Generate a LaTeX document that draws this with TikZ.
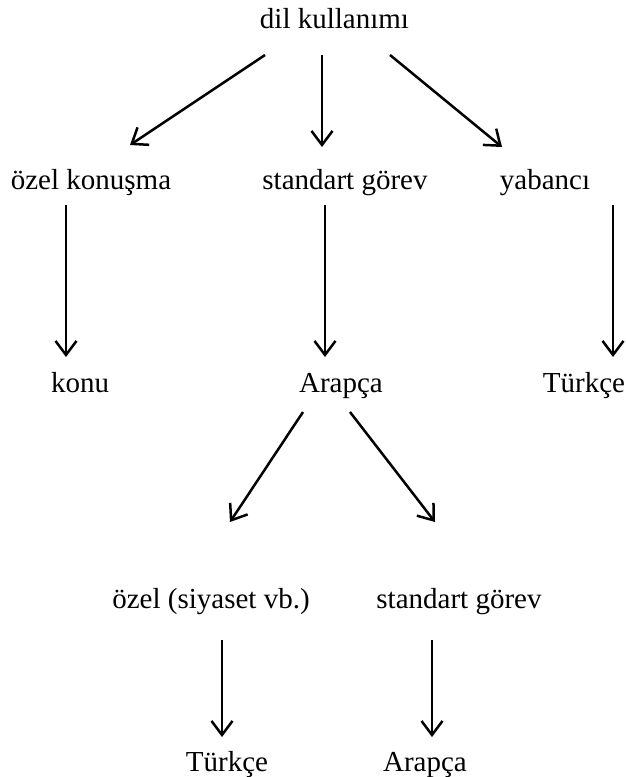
\documentclass[tikz,border=0pt]{standalone}
\usepackage{fontspec}
\setmainfont{Liberation Serif}
\usetikzlibrary{arrows.meta}
\begin{document}
\begin{tikzpicture}[x=1pt,y=-1pt,
  lbl/.style={inner sep=0pt,anchor=base,font=\fontsize{29}{34}\selectfont},
  arr/.style={line width=2.5pt,-{Straight Barb[length=14pt,width=21pt,line width=2.5pt]}}]
\useasboundingbox (0,0) rectangle (625,777);
% labels, placed on their baselines
\node[lbl] (root) at (334.5,28) {dil kullanımı};
\node[lbl] (ok)   at (91,189) {özel konuşma};
\node[lbl] (sg)   at (345,189) {standart görev};
\node[lbl] (yb)   at (545,189) {yabancı};
\node[lbl] (konu) at (80,392) {konu};
\node[lbl] (ar)   at (341,392) {Arapça};
\node[lbl] (tr)   at (584,392) {Türkçe};
\node[lbl] (os)   at (211,608) {özel (siyaset vb.)};
\node[lbl] (sg2)  at (459,608) {standart görev};
\node[lbl] (tr2)  at (227,771) {Türkçe};
\node[lbl] (ar2)  at (425,771) {Arapça};
% connectors
\draw[arr] ([shift={(-69.5,27)}]root.base) -- ([shift={(39,-44)}]ok.base);
\draw[arr] ([shift={(-12.5,27)}]root.base) -- ([shift={(-23,-42)}]sg.base);
\draw[arr] ([shift={(55.5,27)}]root.base) -- ([shift={(-43,-42)}]yb.base);
\draw[arr] ([shift={(-25,16)}]ok.base) -- ([shift={(-14,-35)}]konu.base);
\draw[arr] ([shift={(-20,16)}]sg.base) -- ([shift={(-16,-35)}]ar.base);
\draw[arr] ([shift={(68,16)}]yb.base) -- ([shift={(29,-35)}]tr.base);
\draw[arr] ([shift={(-38,20)}]ar.base) -- ([shift={(19,-86)}]os.base);
\draw[arr] ([shift={(9,20)}]ar.base) -- ([shift={(-24,-86)}]sg2.base);
\draw[arr] ([shift={(11,32)}]os.base) -- ([shift={(-5,-34)}]tr2.base);
\draw[arr] ([shift={(-27,32)}]sg2.base) -- ([shift={(7,-34)}]ar2.base);
\end{tikzpicture}
\end{document}
